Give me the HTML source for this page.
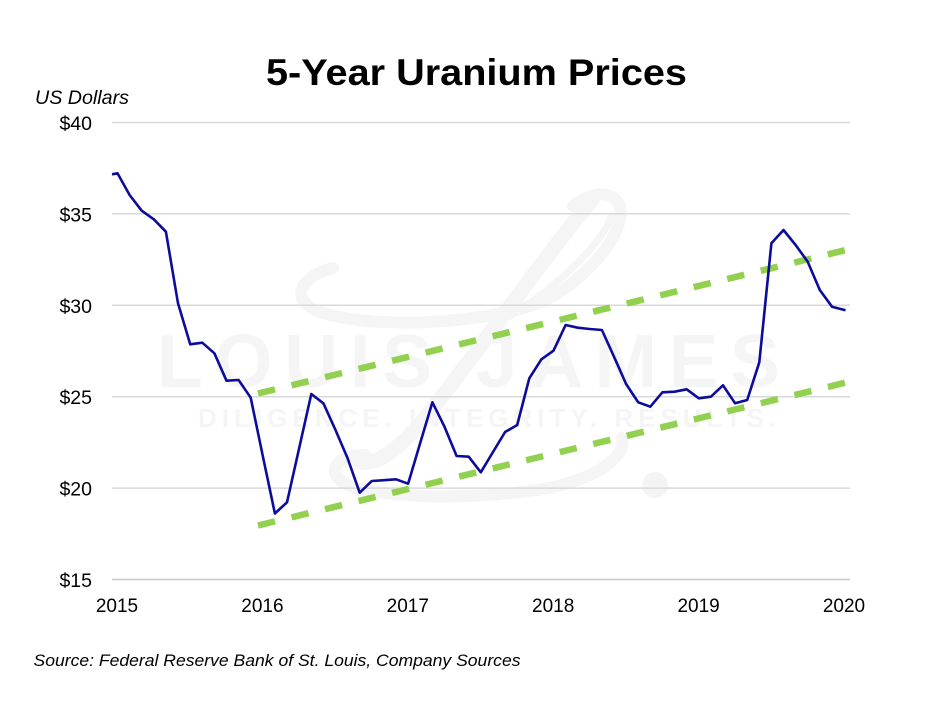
<!DOCTYPE html>
<html>
<head>
<meta charset="utf-8">
<style>
  html, body { margin:0; padding:0; background:#ffffff; }
  svg { display:block; }
  text { font-family: "Liberation Sans", sans-serif; }
</style>
</head>
<body>
<svg width="936" height="702" viewBox="0 0 936 702" xmlns="http://www.w3.org/2000/svg">
  <rect x="0" y="0" width="936" height="702" fill="#ffffff"/>

  <!-- Watermark -->
  <g fill="none" stroke="#f5f5f5" stroke-linecap="round">
    <path d="M 333,268 C 300,276 288,300 320,312 C 380,332 510,322 555,295 C 600,266 625,228 620,206 C 612,188 590,193 573,206" stroke-width="12"/>
    <path d="M 503,320 C 540,300 600,250 612,215" stroke-width="7"/>
    <path d="M 592,200 C 540,262 472,360 425,418 C 398,450 378,465 360,462" stroke-width="15"/>
    <path d="M 365,455 C 330,455 322,480 360,489 C 420,502 520,496 562,485 C 602,474 626,455 622,438" stroke-width="12"/>
  </g>
  <circle cx="655" cy="485" r="13" fill="#f4f4f4"/>
  <text x="157" y="387" font-size="75" font-weight="bold" fill="#f5f5f5" textLength="623" lengthAdjust="spacing">LOUIS JAMES</text>
  <text x="198" y="427" font-size="26" font-weight="bold" fill="#f5f5f5" textLength="578" lengthAdjust="spacing">DILIGENCE. INTEGRITY. RESULTS.</text>

  <!-- Gridlines -->
  <g stroke="#d9d9d9" stroke-width="1.5">
    <line x1="112" y1="122.5" x2="850" y2="122.5"/>
    <line x1="112" y1="213.9" x2="850" y2="213.9"/>
    <line x1="112" y1="305.3" x2="850" y2="305.3"/>
    <line x1="112" y1="396.7" x2="850" y2="396.7"/>
    <line x1="112" y1="488.1" x2="850" y2="488.1"/>
  </g>
  <line x1="112" y1="579.5" x2="850" y2="579.5" stroke="#c8c8c8" stroke-width="1.5"/>

  <!-- Title -->
  <text x="476.5" y="85" font-size="37" font-weight="bold" fill="#000" text-anchor="middle" textLength="421" lengthAdjust="spacingAndGlyphs">5-Year Uranium Prices</text>

  <!-- Axis title -->
  <text x="35" y="104" font-size="19.5" font-style="italic" fill="#000" textLength="94" lengthAdjust="spacingAndGlyphs">US Dollars</text>

  <!-- Y labels -->
  <g font-size="19.5" fill="#000" text-anchor="end">
    <text x="92" y="130">$40</text>
    <text x="92" y="221.4">$35</text>
    <text x="92" y="312.8">$30</text>
    <text x="92" y="404.2">$25</text>
    <text x="92" y="495.6">$20</text>
    <text x="92" y="587">$15</text>
  </g>

  <!-- X labels -->
  <g font-size="19" fill="#000" text-anchor="middle">
    <text x="117" y="612">2015</text>
    <text x="262.4" y="612">2016</text>
    <text x="407.8" y="612">2017</text>
    <text x="553.2" y="612">2018</text>
    <text x="698.6" y="612">2019</text>
    <text x="844" y="612">2020</text>
  </g>

  <!-- Trend lines -->
  <g stroke="#92d050" stroke-width="6.5" stroke-dasharray="17.5 17" fill="none">
    <line x1="258" y1="393.5" x2="846" y2="250"/>
    <line x1="258" y1="525.5" x2="846" y2="382.5"/>
  </g>

  <!-- Price line -->
  <polyline fill="none" stroke="#0c0c9c" stroke-width="2.6" stroke-linejoin="round" points="
    112,174.3 117.5,173.3 129.6,195 141.7,210.7 153.8,219.3 165.9,231.7 178.0,303.3 190.2,344.3
    202.3,342.7 214.4,353.3 226.5,380.7 238.6,380 250.7,397.7 262.8,456 274.9,513.5 287.0,502.3
    299.2,448 311.3,394 323.4,403.3 335.5,430 347.6,458.3 359.7,492.7 371.8,481 383.9,480.2
    396.0,479.3 408.1,483.7 420.2,443 432.4,402.3 444.5,426.7 456.6,456 468.7,456.7 480.8,472.3
    493.0,452 505.1,432 517.2,425 529.3,378.3 541.4,359.3 553.5,350.7 565.6,325 577.7,327.7
    589.8,329 601.9,330 614.0,356.7 626.1,384 638.2,402.3 650.3,406.7 662.4,392.3 674.5,391.7
    686.7,389.3 698.8,398.3 710.9,396.7 723.0,385.3 735.1,403.3 747.2,400 759.3,362.3 771.4,243.3
    783.5,230 795.6,245 807.7,261.7 819.8,290 832.0,306.7 845.5,310.2"/>

  <!-- Source -->
  <text x="33.5" y="666" font-size="16.5" font-style="italic" fill="#000" textLength="487" lengthAdjust="spacingAndGlyphs">Source: Federal Reserve Bank of St. Louis, Company Sources</text>
</svg>
</body>
</html>
